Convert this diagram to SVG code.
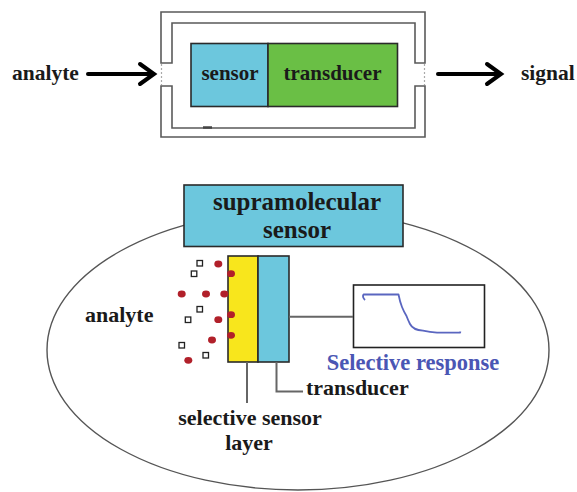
<svg xmlns="http://www.w3.org/2000/svg" width="577" height="492" viewBox="0 0 577 492">
<style>
.t{font-family:'Liberation Serif',serif;font-weight:bold;fill:#1a1a1a}
.frame{fill:none;stroke:#5a5a5a;stroke-width:1.6}
.box{stroke:#2a2a2a;stroke-width:1.6}
.arrow{fill:none;stroke:#000;stroke-width:4;stroke-linecap:round;stroke-linejoin:miter}
.lead{fill:none;stroke:#666;stroke-width:2}
.dot{fill:#b1202a}
.sq{fill:#fff;stroke:#222;stroke-width:1.3}
</style>
<rect width="577" height="492" fill="#fff"/>
<g id="frame">
<path class="frame" d="M161,63 V12 H425 V63 H415 V23 H172 V63 Z"/>
<path class="frame" d="M161,86 V137 H425 V86 H415 V128 H172 V86 Z"/>
<line x1="161.5" y1="64" x2="161.5" y2="85" stroke="#aaa" stroke-width="1.2" stroke-dasharray="2,2"/>
<line x1="424.5" y1="64" x2="424.5" y2="85" stroke="#aaa" stroke-width="1.2" stroke-dasharray="2,2"/>
<line x1="203" y1="127.5" x2="212" y2="127.5" stroke="#444" stroke-width="2.5"/>
</g>
<g id="sensor-top">
<rect class="box" x="191" y="43.5" width="77" height="63" fill="#6cc7dd"/>
<text class="t" x="230" y="80" font-size="21" text-anchor="middle">sensor</text>
</g>
<g id="transducer-top">
<rect class="box" x="268" y="43.5" width="129.5" height="63" fill="#6abf45"/>
<text class="t" x="332.5" y="80" font-size="21" text-anchor="middle">transducer</text>
</g>
<g id="analyte-top"><text class="t" x="12" y="80" font-size="21.5">analyte</text></g>
<g id="signal-top"><text class="t" x="521" y="80" font-size="21.5">signal</text></g>
<g id="ellipse"><ellipse cx="298" cy="350" rx="251" ry="140" fill="none" stroke="#555" stroke-width="1.4"/></g>
<g id="supramolecular-sensor">
<rect class="box" x="184" y="185" width="219" height="61.5" fill="#6cc7dd"/>
<text class="t" x="297" y="210" font-size="25" text-anchor="middle">supramolecular</text>
<text class="t" x="297" y="238" font-size="25" text-anchor="middle">sensor</text>
</g>
<g id="analyte-bottom"><text class="t" x="85" y="322" font-size="22">analyte</text></g>
<g id="layer">
<rect class="box" x="228" y="256" width="30" height="106" fill="#f8e61c"/>
<rect class="box" x="258" y="256" width="31" height="106" fill="#6cc7dd"/>
</g>
<g id="particles">
<ellipse class="dot" cx="218.3" cy="264" rx="4" ry="3.4"/>
<ellipse class="dot" cx="231" cy="273.7" rx="4" ry="3.4"/>
<ellipse class="dot" cx="181.7" cy="294" rx="4" ry="3.4"/>
<ellipse class="dot" cx="206" cy="294" rx="4" ry="3.4"/>
<ellipse class="dot" cx="224.3" cy="294" rx="4" ry="3.4"/>
<ellipse class="dot" cx="231" cy="314.7" rx="4" ry="3.4"/>
<ellipse class="dot" cx="218.3" cy="319.7" rx="4" ry="3.4"/>
<ellipse class="dot" cx="231" cy="335.3" rx="4" ry="3.4"/>
<ellipse class="dot" cx="212" cy="340" rx="4" ry="3.4"/>
<ellipse class="dot" cx="188.3" cy="360.3" rx="4" ry="3.4"/>
<rect class="sq" x="197" y="260.5" width="5.5" height="5.5"/>
<rect class="sq" x="191.3" y="271" width="5.5" height="5.5"/>
<rect class="sq" x="197" y="306.5" width="5.5" height="5.5"/>
<rect class="sq" x="185.3" y="317" width="5.5" height="5.5"/>
<rect class="sq" x="179" y="342.5" width="5.5" height="5.5"/>
<rect class="sq" x="203" y="352.5" width="5.5" height="5.5"/>
</g>
<g id="response">
<rect x="353.5" y="285" width="131" height="62.5" fill="#fff" stroke="#222" stroke-width="1.6"/>
<path d="M365,300 Q362,297 363.5,294.5 H398.5 Q400,302 402,307 Q404,312 406.5,316 Q408,320 410,324 Q413,330 423,330.7 Q430,332 437,332.7 H460 L460.5,331.5" fill="none" stroke="#5a66c0" stroke-width="1.8" stroke-linejoin="round"/>
<text class="t" x="413" y="370" font-size="22.5" text-anchor="middle" style="fill:#4a56b4">Selective response</text>
</g>
<g id="transducer-label"><text class="t" x="306" y="395" font-size="22">transducer</text></g>
<g id="layer-label">
<text class="t" x="250" y="425" font-size="22" text-anchor="middle">selective sensor</text>
<text class="t" x="249" y="450" font-size="22" text-anchor="middle">layer</text>
</g>
<g id="connectors">
<line class="arrow" x1="88" y1="74" x2="152" y2="74"/>
<polyline class="arrow" points="140,64 154,74 140,84"/>
<line class="arrow" x1="438" y1="74" x2="499" y2="74"/>
<polyline class="arrow" points="487,64 501,74 487,84"/>
<line class="lead" x1="289" y1="316.7" x2="353" y2="316.7"/>
<line class="lead" x1="247" y1="362" x2="247" y2="403"/>
<polyline class="lead" points="276.5,362 276.5,391.5 303,391.5"/>
</g>
</svg>
